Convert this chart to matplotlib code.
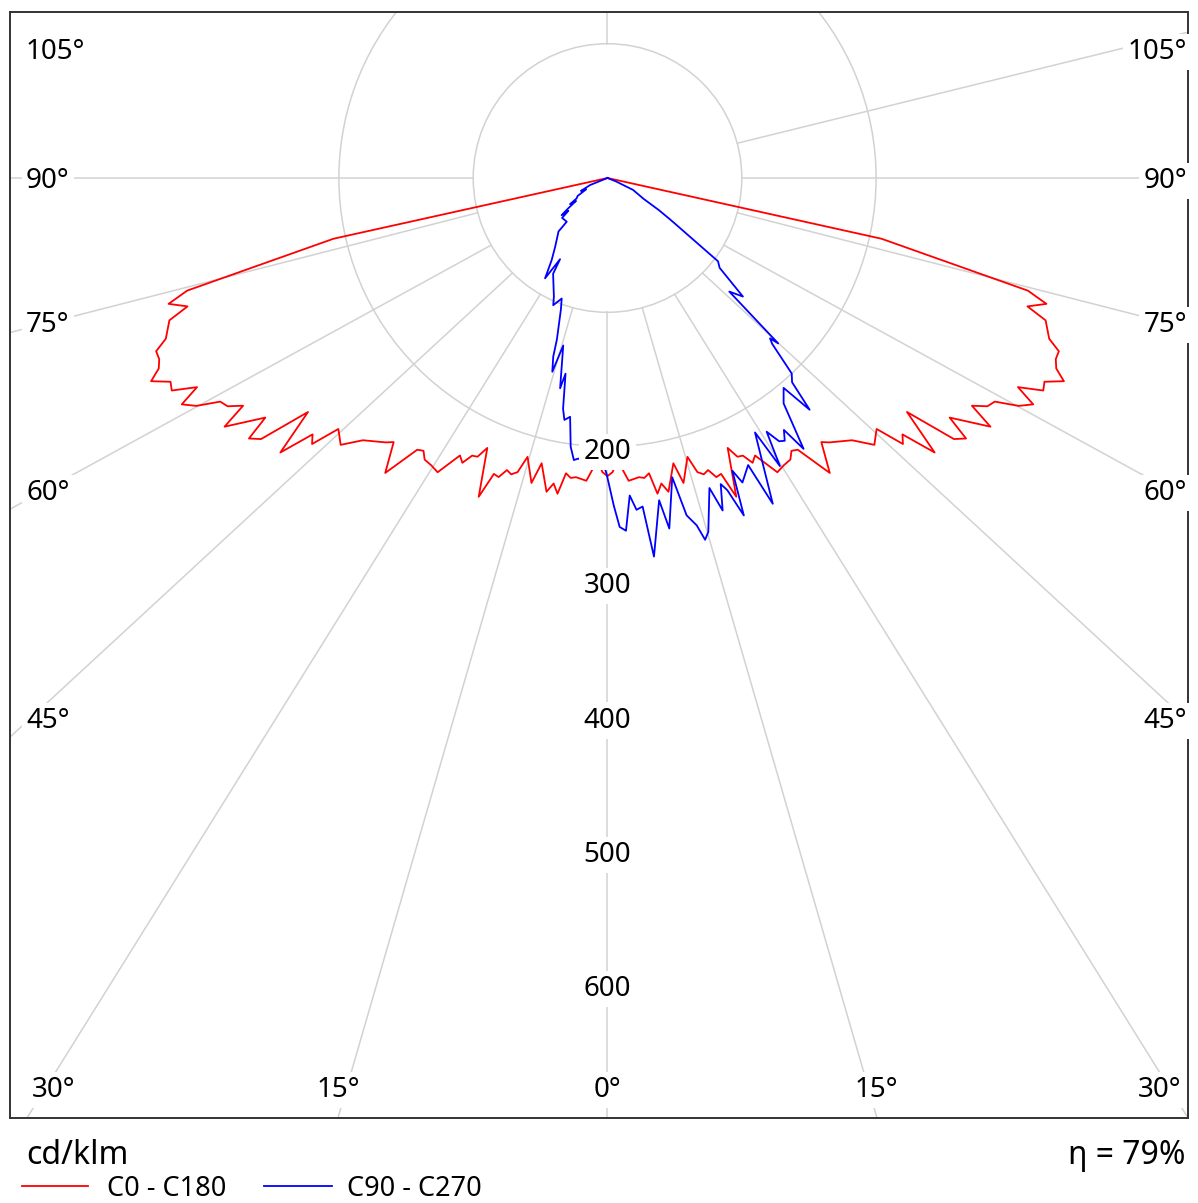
import numpy as np
import matplotlib.pyplot as plt
from matplotlib.patches import Circle
from matplotlib.lines import Line2D

plt.rcParams['font.family'] = ['Noto Sans', 'DejaVu Sans']

# C0 - C180 (symmetric), one half: gamma in degrees, intensity in cd/klm
red_gamma = [0, 1, 2, 4, 6, 7, 8, 9, 10, 11, 13, 14, 16, 17, 18, 19, 20, 21, 22, 24,
             25, 26, 27, 28, 30, 31.5, 33, 34, 35, 37, 39, 40, 43, 45, 47, 48, 49, 50, 52, 53,
             54, 55, 57, 58, 59, 60, 61, 62, 63, 64, 65, 66, 67, 68, 69, 70, 72, 73, 74, 75,
             77.5, 80]
red_cd = [222, 219, 210, 226, 224, 225, 222, 238, 231, 238, 218, 234, 216, 229, 232, 230, 237, 236, 256, 220,
          229, 230, 238, 234, 253, 251, 250, 245, 247, 275, 253, 257, 267, 281, 274, 296, 291, 318, 283, 323,
          330, 311, 340, 320, 330, 333, 350, 359, 343, 361, 359, 372, 363, 360, 360, 350, 343, 327, 340, 324,
          209, 0]

# C90 - C270, signed gamma (negative = left half)
blue_gamma = [-90, -68, -64, -62, -59, -56.6, -55, -54, -52.3, -51, -50, -48.7, -43.0, -42.5, -37.4,
              -34.2, -31.9, -30.3, -29.6, -24.3, -23.1,
              -20.8, -19.5, -17.4, -16.9, -15.9, -14.8, -12.7, -12.1, -10.9, -10.1, -8.9, -7.8, -6.8, -5.9,
              -5.0, -3, -1.0, -0.2, 1.1, 2.0, 3.0, 4.0, 5.0, 6.1, 7.0, 9.1, 10.0, 12.2, 13.2, 14.4, 15.1,
              15.9, 18.2, 19.1, 20.3, 21.0, 22.0, 23.1, 23.9, 26.1, 26.9, 30.1, 30.9, 32.1, 33.1, 34.0,
              35.0, 35.9, 38.0, 40.0, 41.1, 42.1, 43.3, 44.8, 45.4, 45.9, 47.0, 48.8, 51.3, 53, 56, 56.6,
              58, 60, 65, 68, 90]
blue_cd = [0, 14, 22, 18, 26, 27.5, 34, 29, 37, 44, 38, 45, 44.5, 54, 64,
           74, 88, 70, 82, 97, 103,
           96, 104, 126, 139, 150, 129, 160.5, 149, 175, 183, 180, 202, 211.5, 210,
           212, 212, 211, 220, 244, 260, 263, 237, 248, 246, 284, 243, 265, 228, 258, 267, 279,
           274, 243, 262, 243, 249, 271, 237, 248, 238, 272, 219, 250, 223, 234, 236,
           229, 249, 213, 204, 229, 205, 200, 174, 170, 177, 124, 134, 107, 103, 60, 55,
           45, 31, 21, 7, 0]

ring_values = [100, 200]
scale_labels = [200, 300, 400, 500, 600]
eta_text = 'η = 79%'
unit_text = 'cd/klm'
series_names = ['C0 - C180', 'C90 - C270']

W, H = 1198, 1203
fig = plt.figure(figsize=(W / 100, H / 100), dpi=100)
L, R, T, B = 10, 1188, 12, 1118
CX, CY = 607.5, 178
S = 1.343  # pixels per cd/klm
ax = fig.add_axes([L / W, 1 - B / H, (R - L) / W, (B - T) / H])
x0, x1 = -(CX - L) / S, (R - CX) / S
y0, y1 = -(B - CY) / S, (CY - T) / S
ax.set_xlim(x0, x1)
ax.set_ylim(y0, y1)
ax.set_xticks([])
ax.set_yticks([])
for sp in ax.spines.values():
    sp.set_color('#333333')
    sp.set_linewidth(1.4)


def pol(g, r):
    g = np.radians(np.asarray(g, dtype=float))
    r = np.asarray(r, dtype=float)
    return r * np.sin(g), -r * np.cos(g)


grid_c = '#d2d2d2'
for rv in ring_values:
    ax.add_patch(Circle((0, 0), rv, fill=False, ec=grid_c, lw=1.1, zorder=1))

# rays: (gamma at inner ring, direction of the end point on the frame)
rays = [(0, 0), (15, 16.0), (-15, -16.0), (30, 31.7), (-30, -31.7), (45, 46.9), (-45, -46.9),
        (60, 61), (-60, -61), (75, 75.5), (-75, -75.5), (90, 90), (-90, -90), (105, 104.1), (180, 180)]
for g, ge in rays:
    sx, sy = pol(g, 100)
    dx, dy = pol(ge, 1)
    ts = []
    if dx > 1e-9:
        ts.append(x1 / dx)
    if dx < -1e-9:
        ts.append(x0 / dx)
    if dy > 1e-9:
        ts.append(y1 / dy)
    if dy < -1e-9:
        ts.append(y0 / dy)
    t = min(ts)
    ax.add_line(Line2D([sx, t * dx], [sy, t * dy], color=grid_c, lw=1.1, zorder=1))

rg = np.array(red_gamma)
rc = np.array(red_cd)
red_g_full = np.concatenate([-rg[::-1], rg[1:]])
red_c_full = np.concatenate([rc[::-1], rc[1:]])
xr, yr = pol(red_g_full, red_c_full)
ax.plot(xr, yr, color='#ff0000', lw=1.3, zorder=3)
xb, yb = pol(blue_gamma, blue_cd)
ax.plot(xb, yb, color='#0000ff', lw=1.3, zorder=3)

lab_fs = 20
box = dict(facecolor='white', edgecolor='none', pad=3)
for v in scale_labels:
    # nudge down a few pixels so the digits sit centred on the ring value
    ax.text(0, -v - 4, str(v), ha='center', va='center', fontsize=lab_fs, bbox=box, zorder=5)


def fx(px):
    return (px - L) / (R - L)


def fy(py):
    return (B - py) / (B - T)


side = [('105°', 52), ('90°', 181), ('75°', 325), ('60°', 493), ('45°', 721)]
for s, py in side:
    ax.text(fx(26), fy(py), s, transform=ax.transAxes, ha='left', va='center',
            fontsize=lab_fs, bbox=box, zorder=5)
    ax.text(fx(1187), fy(py), s, transform=ax.transAxes, ha='right', va='center',
            fontsize=lab_fs, bbox=box, zorder=5)
bottom = [('30°', 54), ('15°', 338), ('0°', 607), ('15°', 876), ('30°', 1160)]
for s, px in bottom:
    ax.text(fx(px), fy(1090), s, transform=ax.transAxes, ha='center', va='center',
            fontsize=lab_fs, bbox=box, zorder=5)

fig.text(26 / W, 1 - 1155 / H, unit_text, ha='left', va='center', fontsize=23)
fig.text(1186 / W, 1 - 1155 / H, eta_text, ha='right', va='center', fontsize=23)

ly = 1 - 1186 / H
fig.add_artist(Line2D([22 / W, 88 / W], [ly, ly], color='#ff0000', lw=1.3))
fig.text(107 / W, 1 - 1189 / H, series_names[0], ha='left', va='center', fontsize=19.5)
fig.add_artist(Line2D([264 / W, 332 / W], [ly, ly], color='#0000ff', lw=1.3))
fig.text(347 / W, 1 - 1189 / H, series_names[1], ha='left', va='center', fontsize=19.5)

fig.savefig('out.png', dpi=100)
